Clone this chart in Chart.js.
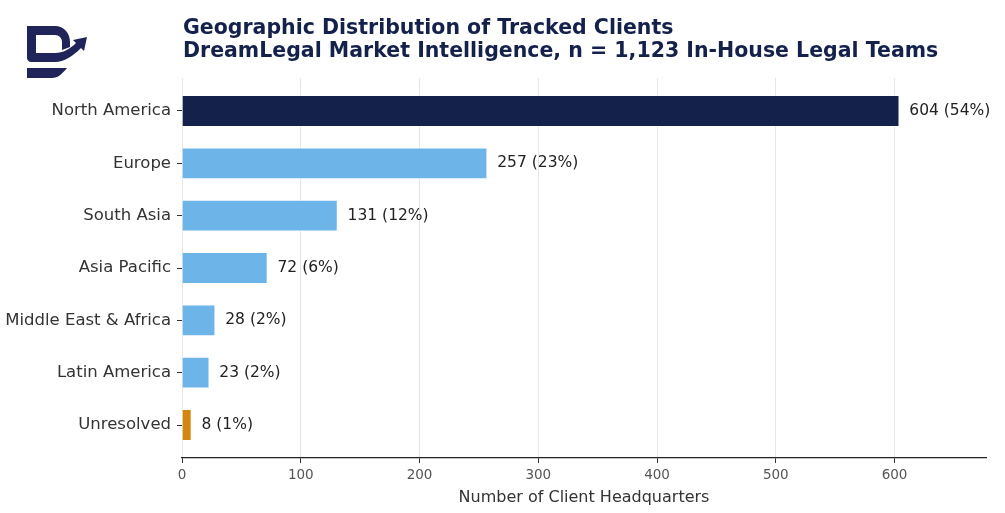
<!DOCTYPE html>
<html>
<head>
<meta charset="utf-8">
<script src="https://cdn.jsdelivr.net/npm/chart.js@4.4.1/dist/chart.umd.min.js"></script>
<style>
  body { margin: 0; background: #fff; }
  #wrap { position: relative; width: 1005px; height: 513px; }
  #logo { position: absolute; left: 20px; top: 20px; }
  #title {
    position: absolute; left: 183px; top: 16px;
    font-family: "DejaVu Sans", sans-serif; font-weight: bold;
    font-size: 20.5px; line-height: 23px; color: #14214b;
    white-space: nowrap;
  }
  canvas { position: absolute; left: 0; top: 0; }
</style>
</head>
<body>
<div id="wrap">
  <canvas id="geoChart" width="1005" height="513"></canvas>
  <svg id="logo" width="75" height="65" viewBox="20 20 75 65">
    <path fill="#1f2559" d="M27,26 H55 C64,26 70,33 70,42 L70,47 L62,50 L62,42 C62,38 59,35 55,35 H36 V53 H55 C63,53 70,49 76,43 L73,40 L87,37 L84,51 L81,48 C73,56 64,62 55,62 H31 C29,62 27,60 27,58 Z"/>
    <path fill="#1f2559" d="M27,68 H67 C62,74 58,78 52,78 H27 Z"/>
  </svg>
  <div id="title">Geographic Distribution of Tracked Clients<br>DreamLegal Market Intelligence, n = 1,123 In-House Legal Teams</div>
</div>
<script>
const regions = ['North America', 'Europe', 'South Asia', 'Asia Pacific', 'Middle East & Africa', 'Latin America', 'Unresolved'];
const clientCounts = [604, 257, 131, 72, 28, 23, 8];
const sharePct = [54, 23, 12, 6, 2, 2, 1];
const xTicks = [0, 100, 200, 300, 400, 500, 600];

const barColors = regions.map((r, i) => i === 0 ? '#14214b' : (r === 'Unresolved' ? '#d4870f' : '#6db5e8'));

const valueLabels = {
    id: 'valueLabels',
    afterDatasetsDraw(chart) {
        const ctx = chart.ctx;
        const meta = chart.getDatasetMeta(0);
        ctx.save();
        ctx.font = '15.5px "DejaVu Sans", sans-serif';
        ctx.fillStyle = '#222';
        ctx.textBaseline = 'middle';
        meta.data.forEach((bar, i) => {
            ctx.fillText(clientCounts[i] + ' (' + sharePct[i] + '%)', bar.x + 10, bar.y);
        });
        ctx.restore();
    }
};

const ctx = document.getElementById('geoChart').getContext('2d');
const geoChart = new Chart(ctx, {
    type: 'bar',
    data: {
        datasets: [{
            data: clientCounts.map((v, i) => ({ x: v, y: i })),
            backgroundColor: barColors,
            borderColor: '#ffffff',
            borderWidth: 0.8,
            barPercentage: 0.6,
            categoryPercentage: 1
        }]
    },
    options: {
        indexAxis: 'y',
        responsive: false,
        animation: false,
        devicePixelRatio: 1,
        layout: { padding: { left: 0, right: 19, top: 78, bottom: 0 } },
        plugins: {
            legend: { display: false },
            tooltip: { enabled: false }
        },
        scales: {
            x: {
                type: 'linear',
                min: 0,
                max: 677,
                afterBuildTicks: (scale) => { scale.ticks = xTicks.map(v => ({ value: v })); },
                afterFit: (scale) => { scale.height = 55; },
                grid: { color: '#e6e6e6', lineWidth: 1, tickLength: 5, tickColor: '#333' },
                border: { display: true, color: '#222', width: 1.3 },
                ticks: { color: '#555', font: { family: 'DejaVu Sans', size: 13.5 }, padding: 4 },
                title: {
                    display: true,
                    text: 'Number of Client Headquarters',
                    color: '#333',
                    font: { family: 'DejaVu Sans', size: 16 },
                    padding: { top: 2, bottom: 6 }
                }
            },
            y: {
                type: 'linear',
                reverse: true,
                offset: false,
                min: -0.63,
                max: 6.63,
                afterBuildTicks: (scale) => { scale.ticks = regions.map((_, i) => ({ value: i })); },
                afterFit: (scale) => { scale.width = 182; },
                grid: { offset: false, drawOnChartArea: false, drawTicks: true, tickLength: 5, color: '#333' },
                border: { display: false },
                ticks: {
                    color: '#333',
                    font: { family: 'DejaVu Sans', size: 16.5 },
                    padding: 6,
                    callback: (v) => regions[v]
                }
            }
        }
    },
    plugins: [valueLabels]
});
</script>
</body>
</html>
